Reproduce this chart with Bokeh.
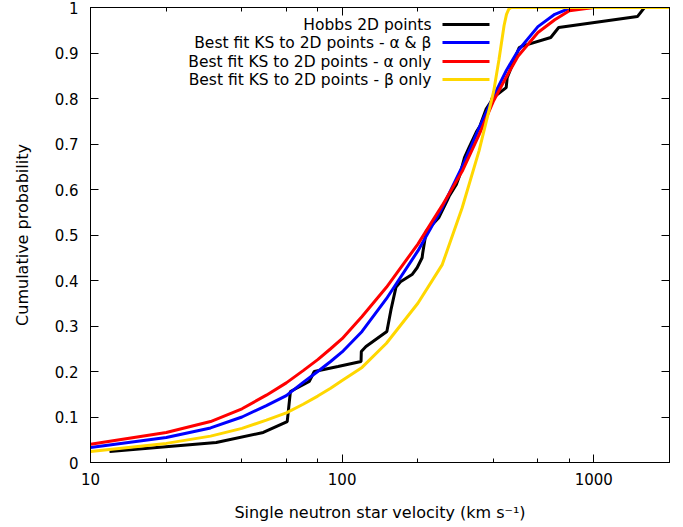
from bokeh.plotting import figure
from bokeh.models import (LogAxis, LinearAxis, FixedTicker, LogTicker,
                          CustomJSTickFormatter, Label, BoxAnnotation, Range1d)
from bokeh.embed import file_html
from bokeh.resources import INLINE

# ---- data ----
hobbs_v = [11.9, 31.6, 48.6, 60.5, 62.3, 74, 77.5, 96.3, 118.9, 119.2, 124.4, 150.6,
           156.4, 163.6, 171.2, 189.6, 198.6, 207.9, 209, 215.9, 224.7, 242, 259.1,
           266.2, 284.4, 292.4, 306.3, 320.9, 342.8, 352.6, 372.9, 390.6, 394.2,
           448.8, 452.9, 505.6, 519.6, 674.7, 725.6, 1491, 1591, 2000]
hobbs_p = [0.024, 0.044, 0.066, 0.09, 0.156, 0.178, 0.2, 0.211, 0.222, 0.244, 0.255,
           0.288, 0.336, 0.385, 0.398, 0.413, 0.428, 0.45, 0.46, 0.508, 0.519, 0.538,
           0.571, 0.585, 0.611, 0.629, 0.670, 0.695, 0.728, 0.739, 0.776, 0.793, 0.80,
           0.824, 0.846, 0.912, 0.915, 0.934, 0.956, 0.98, 1.0, 1.0]

fit_v = [10, 20, 30, 40, 50, 60, 70, 80, 90, 100, 120, 150, 200, 250, 300, 350,
         400, 450, 500, 600, 700, 800, 1000, 2000]
ab_p = [0.033, 0.055, 0.076, 0.100, 0.125, 0.147, 0.176, 0.200, 0.222, 0.243, 0.288,
        0.360, 0.465, 0.56, 0.65, 0.735, 0.805, 0.862, 0.905, 0.958, 0.985, 0.998,
        1.0, 1.0]
a_p = [0.040, 0.066, 0.090, 0.118, 0.148, 0.175, 0.202, 0.226, 0.25, 0.272, 0.321,
       0.385, 0.48, 0.565, 0.64, 0.72, 0.795, 0.848, 0.893, 0.945, 0.973, 0.993,
       1.0, 1.0]

b_v = [10, 20, 30, 40, 50, 60, 70, 80, 90, 100, 120, 150, 200, 250, 300, 350, 400,
       420, 440, 450, 460, 470, 2000]
b_p = [0.024, 0.042, 0.058, 0.075, 0.093, 0.109, 0.128, 0.146, 0.163, 0.18, 0.209,
       0.262, 0.35, 0.435, 0.56, 0.685, 0.815, 0.885, 0.96, 0.985, 0.997, 1.0, 1.0]

series_labels = ["Hobbs 2D points",
                 "Best fit KS to 2D points - \u03b1 & \u03b2",
                 "Best fit KS to 2D points - \u03b1 only",
                 "Best fit KS to 2D points - \u03b2 only"]
series_colors = ["#000000", "#0000ff", "#ff0000", "#ffd700"]

y_ticks = [0, 0.1, 0.2, 0.3, 0.4, 0.5, 0.6, 0.7, 0.8, 0.9, 1.0]

FONT = "DejaVu Sans"

p = figure(x_axis_type="log", x_range=Range1d(10, 2000), y_range=Range1d(0, 1),
           frame_width=579, frame_height=455,
           min_border_left=90, min_border_right=10, min_border_top=7, min_border_bottom=64,
           output_backend="svg", toolbar_location=None)
p.grid.visible = False
p.outline_line_color = "black"
p.outline_line_width = 1
p.background_fill_color = "white"
p.border_fill_color = "white"

xs = [hobbs_v, fit_v, fit_v, b_v]
ys = [hobbs_p, ab_p, a_p, b_p]
for xv, yv, c in zip(xs, ys, series_colors):
    p.line(xv, yv, line_color=c, line_width=3)

# axes
xa = p.xaxis[0]
xa.ticker = LogTicker()
xa.formatter = CustomJSTickFormatter(code="return tick.toFixed(0);")
ya = p.yaxis[0]
ya.ticker = FixedTicker(ticks=y_ticks, minor_ticks=[])
ya.formatter = CustomJSTickFormatter(code="return (Math.round(tick*10)/10).toString();")

for ax in (xa, ya):
    ax.major_tick_in = 8
    ax.major_tick_out = 0
    ax.minor_tick_in = 4
    ax.minor_tick_out = 0
    ax.axis_line_color = "black"
    ax.major_tick_line_color = "black"
    ax.minor_tick_line_color = "black"
    ax.major_label_text_font = FONT
    ax.major_label_text_font_size = "15px"
    ax.major_label_text_color = "black"
    ax.axis_label_text_font = FONT
    ax.axis_label_text_font_size = "16px"
    ax.axis_label_text_font_style = "normal"
    ax.axis_label_text_color = "black"

xa.axis_label = "Single neutron star velocity (km s\u207b\u00b9)"
xa.major_label_standoff = 10
xa.axis_label_standoff = 15
ya.axis_label = "Cumulative probability"
ya.major_label_standoff = 12
ya.axis_label_standoff = 20

empty = CustomJSTickFormatter(code="return '';")
top = LogAxis(ticker=LogTicker(), formatter=empty, major_tick_in=8, major_tick_out=0,
              minor_tick_in=4, minor_tick_out=0, major_label_standoff=0,
              axis_line_color="black")
right = LinearAxis(ticker=FixedTicker(ticks=y_ticks, minor_ticks=[]), formatter=empty,
                   major_tick_in=8, major_tick_out=0, minor_tick_in=0, minor_tick_out=0,
                   major_label_standoff=0, axis_line_color="black")
p.add_layout(top, "above")
p.add_layout(right, "right")

# gnuplot-style key: text right-aligned, sample line to the right
row_y = [438, 420, 401, 383]
for lab, c, yy in zip(series_labels, series_colors, row_y):
    p.add_layout(Label(x=341, y=yy, x_units="screen", y_units="screen", text=lab,
                       text_align="right", text_baseline="middle", text_font=FONT,
                       text_font_size="15.5px", text_color="black"))
    p.add_layout(BoxAnnotation(left=352, right=399, bottom=yy - 1.5, top=yy + 1.5,
                               left_units="screen", right_units="screen",
                               top_units="screen", bottom_units="screen",
                               fill_color=c, fill_alpha=1.0, line_color=None))

open("out.html", "w").write(file_html(p, INLINE))
